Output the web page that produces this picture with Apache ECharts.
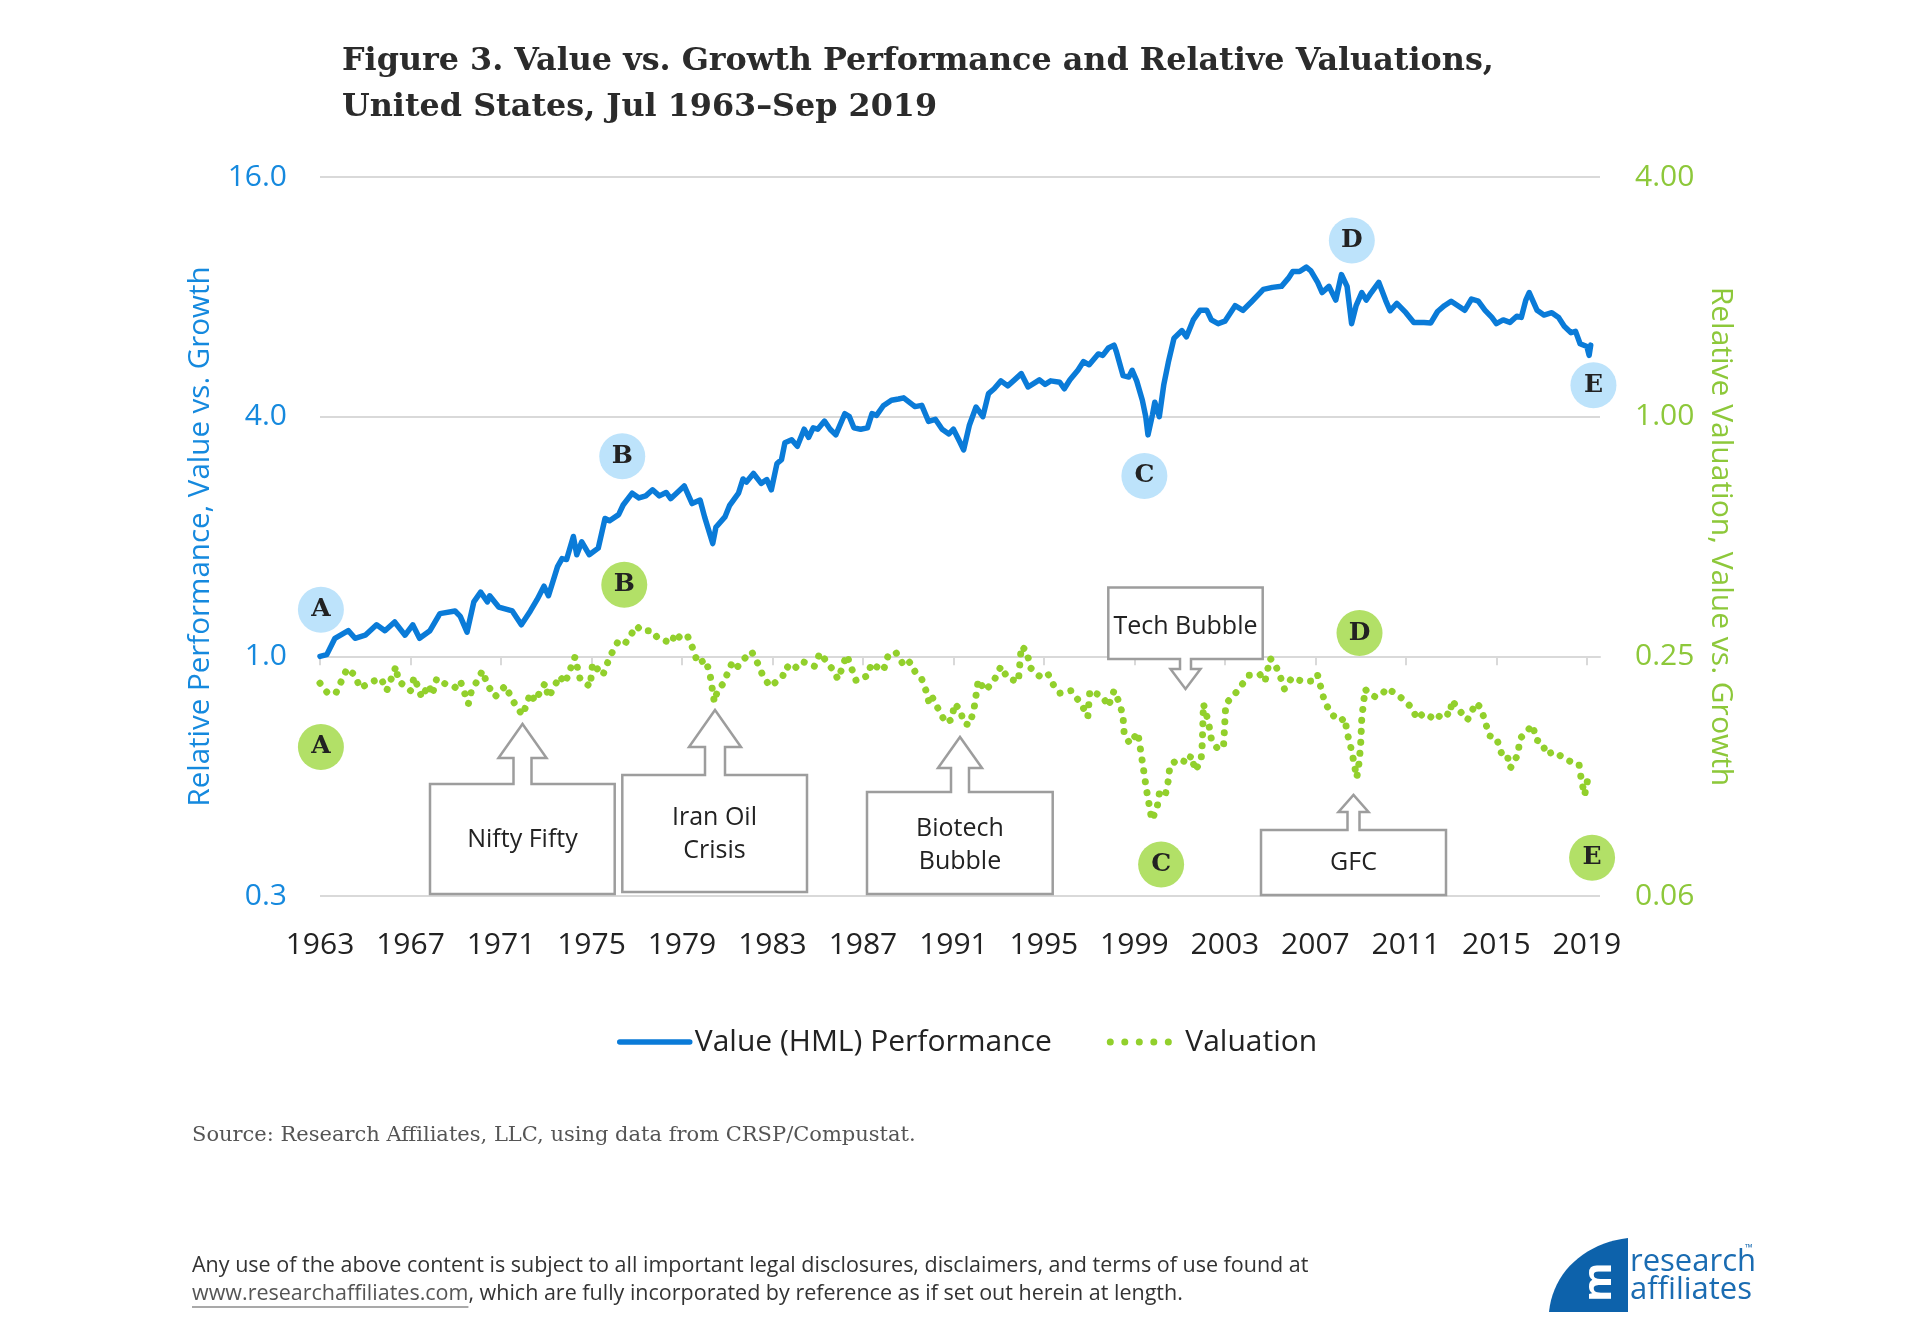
<!DOCTYPE html>
<html><head><meta charset="utf-8">
<script src="https://cdn.jsdelivr.net/npm/echarts@6/dist/echarts.min.js"></script>
<style>html,body{margin:0;padding:0;background:#fff}#c{width:1920px;height:1326px}</style>
</head><body><div id="c"></div>
<script>
// ---- data ----
const perfYears = [1963.50,1963.80,1964.16,1964.75,1965.05,1965.50,1966.00,1966.37,1966.80,1967.26,1967.60,1967.90,1968.36,1968.80,1969.47,1969.70,1970.00,1970.30,1970.60,1970.90,1971.00,1971.40,1972.00,1972.40,1972.80,1973.10,1973.40,1973.60,1974.00,1974.20,1974.40,1974.70,1974.85,1975.07,1975.40,1975.80,1976.10,1976.30,1976.70,1976.90,1977.30,1977.60,1977.90,1978.20,1978.50,1978.80,1979.00,1979.20,1979.60,1979.95,1980.30,1980.50,1980.86,1981.00,1981.40,1981.60,1981.80,1982.00,1982.20,1982.35,1982.66,1983.00,1983.25,1983.45,1983.70,1983.90,1984.05,1984.35,1984.60,1984.90,1985.10,1985.30,1985.50,1985.80,1986.05,1986.30,1986.70,1986.90,1987.10,1987.40,1987.70,1987.90,1988.10,1988.40,1988.76,1989.07,1989.30,1989.50,1989.80,1990.10,1990.40,1990.70,1991.00,1991.30,1991.50,1991.80,1991.95,1992.20,1992.50,1992.80,1993.05,1993.30,1993.60,1993.90,1994.15,1994.50,1994.80,1995.30,1995.55,1995.80,1996.20,1996.40,1996.65,1997.00,1997.25,1997.50,1997.90,1998.10,1998.35,1998.60,1998.70,1999.00,1999.25,1999.40,1999.60,1999.85,2000.00,2000.10,2000.30,2000.40,2000.60,2000.80,2001.00,2001.25,2001.60,2001.80,2002.10,2002.40,2002.70,2002.90,2003.20,2003.50,2003.95,2004.30,2004.70,2005.20,2005.60,2006.00,2006.30,2006.50,2006.80,2007.10,2007.30,2007.60,2007.80,2008.10,2008.40,2008.65,2008.90,2009.10,2009.30,2009.55,2009.75,2009.97,2010.30,2010.60,2010.80,2011.10,2011.50,2011.85,2012.30,2012.60,2012.90,2013.20,2013.50,2013.80,2014.10,2014.40,2014.70,2015.00,2015.30,2015.50,2015.80,2016.10,2016.40,2016.60,2016.80,2016.95,2017.30,2017.60,2017.95,2018.25,2018.50,2018.80,2019.00,2019.20,2019.50,2019.60,2019.67];
const perfValues = [1.00,1.01,1.11,1.16,1.11,1.13,1.20,1.16,1.22,1.13,1.20,1.11,1.16,1.28,1.30,1.26,1.15,1.37,1.45,1.37,1.42,1.33,1.30,1.20,1.30,1.39,1.50,1.42,1.68,1.76,1.75,2.00,1.80,1.94,1.80,1.87,2.22,2.19,2.27,2.40,2.57,2.50,2.53,2.62,2.53,2.58,2.49,2.55,2.68,2.42,2.47,2.24,1.92,2.11,2.24,2.39,2.48,2.57,2.79,2.74,2.88,2.72,2.78,2.62,3.05,3.12,3.44,3.50,3.37,3.72,3.55,3.75,3.72,3.90,3.72,3.60,4.07,4.00,3.75,3.72,3.75,4.07,4.03,4.26,4.40,4.43,4.46,4.37,4.24,4.27,3.89,3.94,3.72,3.62,3.72,3.44,3.30,3.80,4.23,4.00,4.57,4.70,4.92,4.78,4.92,5.13,4.75,4.95,4.82,4.92,4.88,4.70,4.95,5.23,5.50,5.40,5.75,5.70,5.95,6.05,5.83,5.07,5.03,5.23,4.92,4.40,4.00,3.60,4.05,4.35,4.00,4.82,5.48,6.30,6.58,6.35,7.00,7.40,7.40,7.00,6.85,6.95,7.60,7.40,7.80,8.35,8.45,8.50,8.90,9.26,9.26,9.50,9.30,8.70,8.20,8.50,7.85,9.10,8.50,6.85,7.60,8.20,7.85,8.20,8.70,7.85,7.38,7.70,7.30,6.90,6.90,6.88,7.35,7.60,7.80,7.60,7.40,7.90,7.80,7.40,7.10,6.85,7.00,6.90,7.15,7.10,7.85,8.20,7.40,7.20,7.30,7.10,6.75,6.50,6.55,6.10,6.00,5.70,6.05];

const valYears = [1963.50,1963.84,1964.20,1964.70,1965.05,1965.27,1965.80,1966.20,1966.45,1966.86,1966.96,1967.50,1967.66,1968.00,1968.30,1968.46,1968.66,1969.10,1969.47,1969.70,1970.06,1970.18,1970.68,1970.90,1971.24,1971.70,1971.93,1972.20,1972.46,1972.80,1973.00,1973.45,1973.60,1974.10,1974.33,1974.77,1975.00,1975.44,1975.55,1976.00,1976.32,1976.70,1977.00,1977.50,1977.70,1978.16,1978.45,1979.05,1979.20,1979.50,1979.76,1980.00,1980.20,1980.55,1980.74,1980.93,1981.06,1981.33,1981.70,1981.90,1982.14,1982.58,1982.85,1983.10,1983.40,1983.94,1984.13,1984.38,1984.80,1985.35,1985.60,1986.15,1986.40,1986.78,1987.00,1987.20,1987.74,1987.86,1988.40,1988.62,1988.95,1989.33,1989.58,1989.80,1990.10,1990.30,1990.43,1990.57,1990.86,1991.16,1991.45,1991.53,1991.80,1991.95,1992.20,1992.40,1992.60,1992.90,1993.27,1993.60,1993.90,1994.37,1994.50,1994.74,1994.90,1995.30,1995.66,1995.92,1996.20,1996.70,1997.17,1997.44,1997.53,1998.10,1998.35,1998.60,1998.87,1999.00,1999.05,1999.30,1999.65,1999.85,2000.04,2000.27,2000.50,2000.60,2000.85,2001.00,2001.07,2001.44,2001.88,2002.00,2002.20,2002.45,2002.50,2002.55,2002.77,2002.90,2003.19,2003.44,2003.54,2004.00,2004.56,2005.05,2005.27,2005.50,2005.70,2005.94,2006.13,2006.46,2006.97,2007.50,2007.60,2007.90,2008.20,2008.60,2008.80,2008.90,2009.10,2009.33,2009.43,2009.50,2009.55,2009.70,2009.84,2010.13,2010.43,2010.65,2011.02,2011.38,2011.75,2012.00,2012.27,2012.86,2013.10,2013.46,2013.53,2013.86,2014.22,2014.60,2014.80,2015.00,2015.18,2015.50,2015.72,2015.95,2016.12,2016.46,2016.53,2017.10,2017.27,2017.53,2017.70,2018.08,2018.45,2018.90,2019.15,2019.26,2019.40,2019.60];
const valValues = [0.214,0.202,0.202,0.233,0.224,0.208,0.216,0.220,0.205,0.236,0.217,0.205,0.222,0.197,0.212,0.200,0.220,0.212,0.209,0.217,0.190,0.203,0.230,0.212,0.198,0.211,0.198,0.186,0.178,0.202,0.193,0.214,0.197,0.223,0.214,0.249,0.219,0.210,0.240,0.224,0.250,0.274,0.270,0.298,0.290,0.290,0.277,0.270,0.286,0.275,0.280,0.260,0.240,0.245,0.225,0.192,0.204,0.214,0.240,0.233,0.243,0.257,0.240,0.222,0.210,0.222,0.236,0.230,0.243,0.236,0.255,0.232,0.219,0.252,0.233,0.217,0.224,0.240,0.230,0.252,0.256,0.236,0.242,0.229,0.219,0.204,0.190,0.197,0.183,0.170,0.174,0.190,0.184,0.170,0.168,0.183,0.218,0.205,0.216,0.236,0.220,0.216,0.265,0.258,0.234,0.223,0.227,0.212,0.202,0.205,0.189,0.176,0.205,0.198,0.187,0.205,0.189,0.175,0.159,0.151,0.161,0.136,0.115,0.097,0.104,0.113,0.111,0.122,0.133,0.138,0.135,0.141,0.129,0.138,0.151,0.190,0.171,0.155,0.146,0.149,0.190,0.203,0.224,0.225,0.216,0.247,0.240,0.223,0.207,0.221,0.216,0.217,0.224,0.193,0.179,0.172,0.175,0.161,0.145,0.124,0.135,0.150,0.175,0.207,0.202,0.198,0.200,0.208,0.202,0.195,0.186,0.174,0.180,0.173,0.181,0.178,0.194,0.183,0.173,0.191,0.186,0.172,0.158,0.156,0.143,0.143,0.131,0.142,0.155,0.168,0.154,0.152,0.142,0.144,0.139,0.135,0.134,0.122,0.112,0.128];

const tickYears = [1963,1967,1971,1975,1979,1983,1987,1991,1995,1999,2003,2007,2011,2015,2019];
const seriesNames = ['Value (HML) Performance', 'Valuation'];

// Annotation letters: [letter, year, value]
const perfMarks = [['A',1963.54,1.31],['B',1976.86,3.18],['C',1999.94,2.84],['D',2009.11,11.08],['E',2019.79,4.8]];
const valMarks  = [['A',1963.54,0.148],['B',1976.95,0.378],['C',2000.68,0.075],['D',2009.45,0.286],['E',2019.73,0.078]];

// ---- styles ----
const BLUE = '#0a7bd8', BLUE_TXT = '#1589de', GREEN = '#92d02c', GREEN_TXT = '#8dc83a';
const SANS = '"Open Sans", "Noto Sans", sans-serif';
const SERIF = '"DejaVu Serif", "Liberation Serif", serif';
const GRID = {left: 320, right: 320, top: 177, bottom: 430};
const gridH = 1326 - GRID.top - GRID.bottom;

const perfData = perfYears.map((y, i) => [y, perfValues[i]]);
const valData = valYears.map((y, i) => [y, valValues[i]]);
const tickPos = tickYears.map(y => y + 0.5);

function markData(arr) {
  return arr.map(m => ({name: m[0], coord: [m[1], m[2]]}));
}

// ---- callouts ----
function upCallout(b, tip, headY, hh, sh) {
  const [L, R, T, B] = b, [tx, ty] = tip;
  return [[L,T],[tx-sh,T],[tx-sh,headY],[tx-hh,headY],[tx,ty],[tx+hh,headY],[tx+sh,headY],[tx+sh,T],[R,T],[R,B],[L,B]];
}
function downCallout(b, tip, headY, hh, sh) {
  const [L, R, T, B] = b, [tx, ty] = tip;
  return [[L,T],[R,T],[R,B],[tx+sh,B],[tx+sh,headY],[tx+hh,headY],[tx,ty],[tx-hh,headY],[tx-sh,headY],[tx-sh,B],[L,B]];
}
const callouts = [
  {pts: upCallout([430,614.7,784,894],[522.5,724],758,24,9), text:'Nifty Fifty', x:522.5, y:840},
  {pts: upCallout([622.3,807,775,892],[715,710],747,26,10), text:'Iran Oil\nCrisis', x:714.5, y:834.5},
  {pts: upCallout([867,1052.7,792,894],[960,737],768,22,9), text:'Biotech\nBubble', x:960, y:845},
  {pts: downCallout([1108.3,1262.7,587.5,659],[1185.5,689],669,15,5.5), text:'Tech Bubble', x:1185.5, y:627},
  {pts: upCallout([1261,1446,830,895],[1353.5,795],812,15,6), text:'GFC', x:1353.5, y:863}
];
const graphics = [];
callouts.forEach(c => {
  graphics.push({type:'polygon', z:100, shape:{points:c.pts}, style:{fill:'#fff', stroke:'#9d9d9d', lineWidth:2.5}});
  graphics.push({type:'text', z:101, style:{text:c.text, x:c.x, y:c.y, font:'25px ' + SANS, fill:'#222', align:'center', verticalAlign:'middle', lineHeight:33}});
});

// source + disclaimer
const ctx = document.createElement('canvas').getContext('2d');
const discFont = '21.5px ' + SANS;
ctx.font = discFont;
const linkText = 'www.researchaffiliates.com';
const linkW = ctx.measureText(linkText).width;
graphics.push({type:'text', style:{text:'Source: Research Affiliates, LLC, using data from CRSP/Compustat.', x:192, y:1136, font:'21px ' + SERIF, fill:'#555', verticalAlign:'middle'}});
graphics.push({type:'text', style:{text:'Any use of the above content is subject to all important legal disclosures, disclaimers, and terms of use found at', x:192, y:1266, font:discFont, fill:'#333', verticalAlign:'middle'}});
graphics.push({type:'text', style:{text:linkText, x:192, y:1294, font:discFont, fill:'#555', verticalAlign:'middle'}});
graphics.push({type:'line', shape:{x1:192, y1:1307, x2:192+linkW, y2:1307}, style:{stroke:'#555', lineWidth:1.2}});
graphics.push({type:'text', style:{text:', which are fully incorporated by reference as if set out herein at length.', x:192+linkW, y:1294, font:discFont, fill:'#333', verticalAlign:'middle'}});

// logo (decorative)
const logoPts = [[1628,1312],[1549,1312]];
for (let i = 0; i <= 20; i++) {
  const t = i / 20, u = 1 - t;
  logoPts.push([u*u*u*1549 + 3*u*u*t*1553 + 3*u*t*t*1585 + t*t*t*1628,
                u*u*u*1312 + 3*u*u*t*1272 + 3*u*t*t*1243 + t*t*t*1238]);
}
graphics.push({type:'polygon', shape:{points:logoPts}, style:{fill:'#0d62ab'}});
graphics.push({type:'text', rotation: Math.PI/2, x:1600, y:1282, style:{text:'m', x:0, y:0, font:'bold 40px ' + SANS, fill:'#fff', align:'center', verticalAlign:'middle'}});
graphics.push({type:'text', style:{text:'research', x:1630, y:1262, font:'31px ' + SANS, fill:'#1a6cb2', verticalAlign:'middle'}});
graphics.push({type:'text', style:{text:'affiliates', x:1630, y:1290, font:'31px ' + SANS, fill:'#1a6cb2', verticalAlign:'middle'}});
graphics.push({type:'text', style:{text:'™', x:1745, y:1248, font:'10px ' + SANS, fill:'#1a6cb2', verticalAlign:'middle'}});

const chart = echarts.init(document.getElementById('c'), null, {renderer:'canvas'});
const markLabel = {show:true, formatter:'{b}', fontFamily: SERIF, fontWeight:'bold', fontSize:25, color:'#222'};
chart.setOption({
  animation: false,
  backgroundColor: '#fff',
  title: {
    text: 'Figure 3. Value vs. Growth Performance and Relative Valuations,\nUnited States, Jul 1963–Sep 2019',
    left: 337, top: 34,
    textStyle: {fontFamily: SERIF, fontWeight: 'bold', fontSize: 31.8, lineHeight: 46, color: '#2b2b2b'}
  },
  grid: GRID,
  legend: {
    left: 612, top: 1022, itemWidth: 70, itemHeight: 14, itemGap: 55,
    textStyle: {fontFamily: SANS, fontSize: 30, color: '#222'},
    itemStyle: {opacity: 0},
    data: [
      {name: seriesNames[0], lineStyle: {width: 5.5, color: BLUE, cap: 'round'}, itemStyle: {opacity: 0}},
      {name: seriesNames[1], lineStyle: {type: [0.01, 14.5], width: 7, cap: 'round', color: GREEN}, itemStyle: {opacity: 0}}
    ]
  },
  xAxis: [
    {type:'value', min:1963.5, max:2020.08, position:'bottom',
     axisLine:{show:false}, axisTick:{show:false}, splitLine:{show:false},
     axisLabel:{customValues: tickPos, formatter: v => String(Math.floor(v)), fontFamily:SANS, fontSize:30, color:'#222', margin:34}},
    {type:'value', min:1963.5, max:2020.08, position:'bottom', offset: -gridH/3,
     axisLine:{show:true, lineStyle:{color:'#d9d9d9', width:2}},
     axisTick:{show:true, customValues: tickPos, length:9, lineStyle:{color:'#d9d9d9', width:2}},
     axisLabel:{show:false}, splitLine:{show:false}}
  ],
  yAxis: [
    {type:'log', logBase:4, min:0.25, max:16, position:'left',
     name:'Relative Performance, Value vs. Growth', nameLocation:'middle', nameGap:104,
     nameTextStyle:{fontFamily:SANS, fontSize:29.5, color:BLUE_TXT},
     axisLine:{show:false}, axisTick:{show:false},
     splitLine:{show:true, lineStyle:{color:'#d9d9d9', width:2}},
     axisLabel:{formatter: v => v.toFixed(1), fontFamily:SANS, fontSize:30, color:BLUE_TXT, margin:33}},
    {type:'log', logBase:4, min:0.0625, max:4, position:'right',
     name:'Relative Valuation, Value vs. Growth', nameLocation:'middle', nameGap:104, nameRotate:-90,
     nameTextStyle:{fontFamily:SANS, fontSize:30, color:GREEN_TXT},
     axisLine:{show:false}, axisTick:{show:false}, splitLine:{show:false},
     axisLabel:{formatter: v => v.toFixed(2), fontFamily:SANS, fontSize:30, color:GREEN_TXT, margin:35}}
  ],
  series: [
    {name: seriesNames[0], type:'line', data: perfData, xAxisIndex:0, yAxisIndex:0,
     symbol:'none', lineStyle:{color:BLUE, width:5.5, cap:'round', join:'round'}, itemStyle:{color:BLUE}, z:3,
     markPoint:{symbol:'circle', symbolSize:46, itemStyle:{color:'#bde3fb'}, label:markLabel, data: markData(perfMarks)}},
    {name: seriesNames[1], type:'line', data: valData, xAxisIndex:0, yAxisIndex:1,
     symbol:'none', lineStyle:{color:GREEN, width:7, type:[0.01, 11], cap:'round'}, itemStyle:{color:GREEN}, z:2,
     markPoint:{symbol:'circle', symbolSize:46, itemStyle:{color:'#b2e067'}, label:markLabel, data: markData(valMarks)}}
  ],
  graphic: graphics
});
</script>
</body></html>
